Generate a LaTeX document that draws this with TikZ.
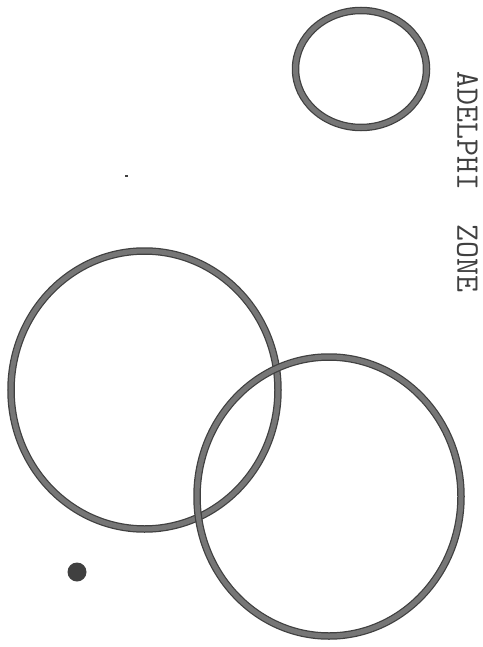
\documentclass[tikz,border=0pt]{standalone}
\usepackage{fontspec}
\usepackage{tikz}
\definecolor{ringgray}{HTML}{767676}
\definecolor{ringedge}{HTML}{404040}
\tikzset{
  ring/.style={draw=ringedge,line width=7.5pt,
    postaction={draw=ringgray,line width=5pt}},
}

\begin{document}
\begin{tikzpicture}[x=1pt,y=-1pt,font=\ttfamily]
  \useasboundingbox (0,0) rectangle (482,647);

  % Rings
  \draw[ring] (361,69) ellipse [x radius=65.5pt, y radius=58.5pt];
  \draw[ring] (144.5,390) ellipse [x radius=133.5pt, y radius=139pt];
  \draw[ring] (329,496.5) ellipse [x radius=132pt, y radius=139.5pt];

  % Dots
  \fill[ringedge] (77,572) circle [radius=9.5pt];
  \fill[ringedge] (124.5,175) rectangle (127.5,177);

  % Label
  \node[rotate=-90,inner sep=0pt,font=\ttfamily\fontsize{33}{33}\selectfont,text=ringedge]
    (zone) at (467.5,182) {ADELPHI~~ZONE};
\end{tikzpicture}
\end{document}
